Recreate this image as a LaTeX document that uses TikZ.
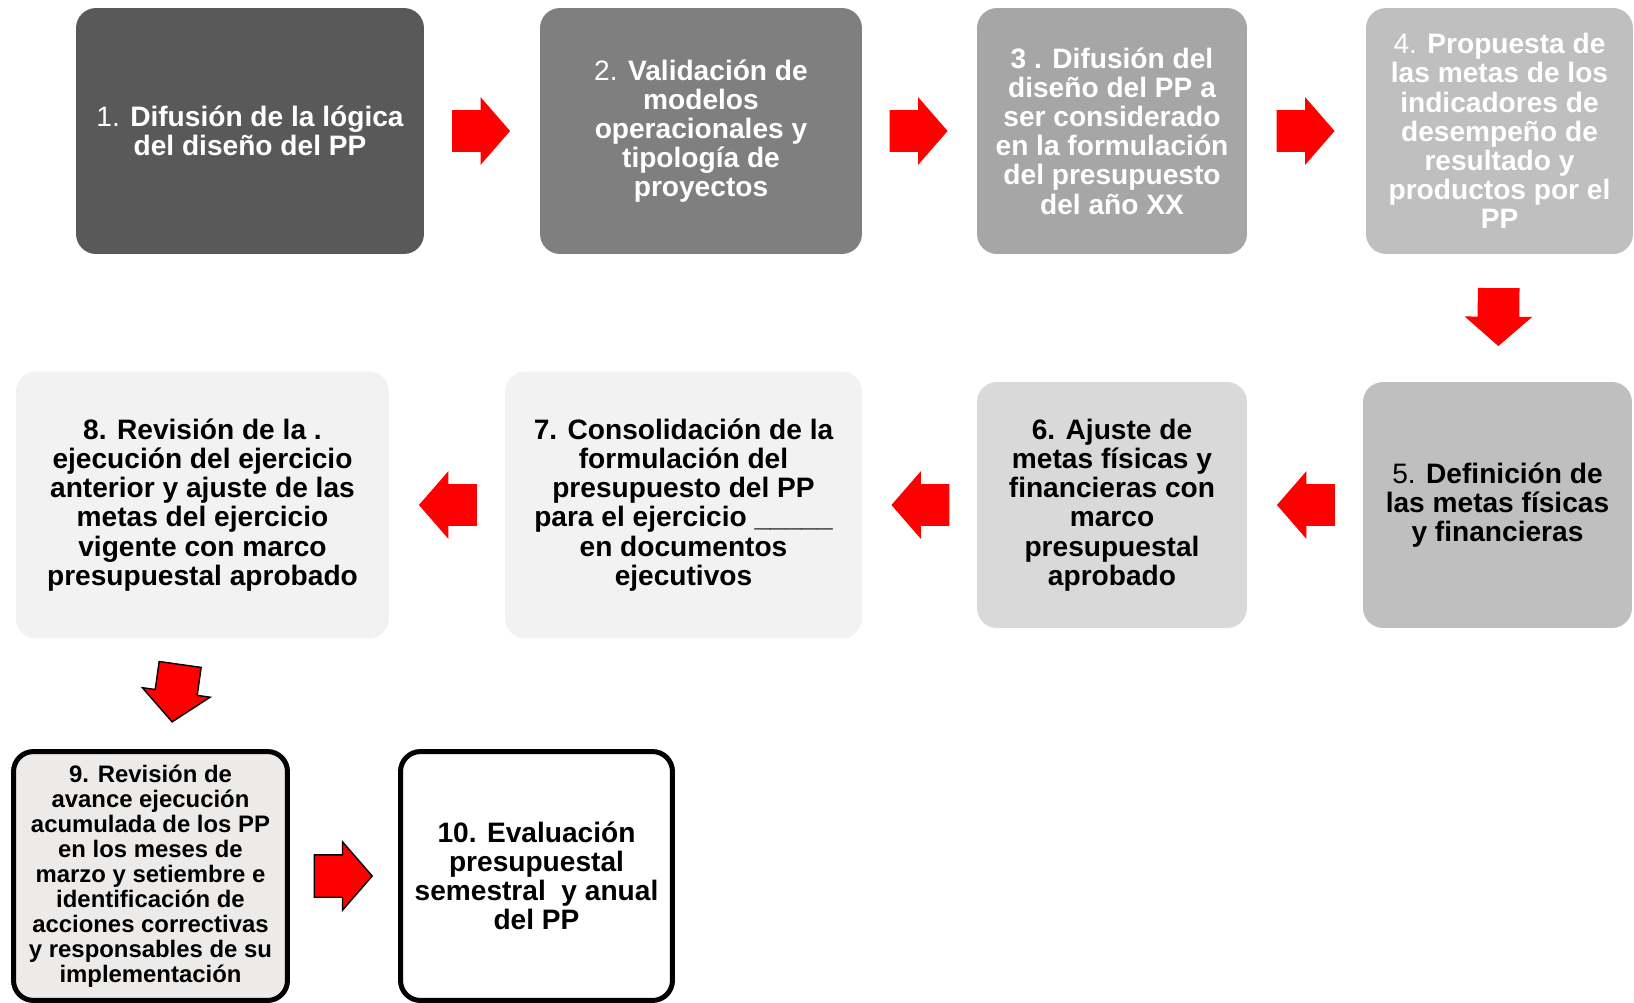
\documentclass[tikz,border=0pt]{standalone}
\usepackage{fontspec}
\setmainfont{Liberation Sans}
\usetikzlibrary{positioning,shapes.arrows}

\definecolor{grayA}{HTML}{595959}
\definecolor{grayB}{HTML}{7F7F7F}
\definecolor{grayC}{HTML}{A6A6A6}
\definecolor{grayD}{HTML}{BFBFBF}
\definecolor{grayE}{HTML}{D9D9D9}
\definecolor{grayF}{HTML}{F2F2F2}
\definecolor{grayG}{HTML}{EDEBE9}

\begin{document}
\begin{tikzpicture}[x=0.02cm, y=-0.02cm,
  box/.style={rounded corners=0.4cm, align=center, inner sep=0pt,
    font=\bfseries\fontsize{16}{16.6}\selectfont},
  framed/.style={box, draw=black, line width=0.1cm,
    font=\bfseries\fontsize{13.6}{14.2}\selectfont},
  redarrow/.style={single arrow, fill=red, inner xsep=0pt, inner ysep=0.41cm,
    minimum height=1.16cm, single arrow head extend=0.26cm,
    single arrow tip angle=98, midway, sloped, allow upside down, xshift=-0.2cm}]
  \useasboundingbox (0,0) rectangle (1634,1002);

  % First row
  \node[box, fill=grayA, text=white, minimum width=6.96cm, minimum height=4.92cm]
    (b1) at (250,131) {{\mdseries 1.} Difusión de la lógica\\del diseño del PP};
  \node[box, fill=grayB, text=white, minimum width=6.44cm, minimum height=4.92cm]
    (b2) at (701,131) {{\mdseries 2.} Validación de\\modelos\\operacionales y\\tipología de\\proyectos};
  \node[box, fill=grayC, text=white, minimum width=5.4cm, minimum height=4.92cm]
    (b3) at (1112,131) {3 . Difusión del\\diseño del PP a\\ser considerado\\en la formulación\\del presupuesto\\del año XX};
  \node[box, fill=grayD, text=white, minimum width=5.34cm, minimum height=4.92cm]
    (b4) at (1499.5,131) {{\mdseries 4.} Propuesta de\\las metas de los\\indicadores de\\desempeño de\\resultado y\\productos por el\\PP};

  % Second row, right to left
  \node[box, fill=grayD, minimum width=5.38cm, minimum height=4.92cm]
    (b5) at (1497.5,505) {{\mdseries 5.} Definición de\\las metas físicas\\y financieras};
  \node[box, fill=grayE, minimum width=5.4cm, minimum height=4.92cm]
    (b6) at (1112,505) {6. Ajuste de\\metas físicas y\\financieras con\\marco\\presupuestal\\aprobado};
  \node[box, fill=grayF, minimum width=7.14cm, minimum height=5.34cm]
    (b7) at (683.5,505) {7. Consolidación de la\\formulación del\\presupuesto del PP\\para el ejercicio \_\_\_\_\_\\en documentos\\ejecutivos};
  \node[box, fill=grayF, minimum width=7.46cm, minimum height=5.34cm]
    (b8) at (202.5,505) {8. Revisión de la .\\ejecución del ejercicio\\anterior y ajuste de las\\metas del ejercicio\\vigente con marco\\presupuestal aprobado};

  % Third row
  \node[framed, fill=grayG, minimum width=5.48cm, minimum height=4.98cm]
    (b9) at (150.5,876) {9. Revisión de\\avance ejecución\\acumulada de los PP\\en los meses de\\marzo y setiembre e\\identificación de\\acciones correctivas\\y responsables de su\\implementación};
  \node[framed, fill=white, minimum width=5.44cm, minimum height=4.98cm,
    font=\bfseries\fontsize{16}{16.6}\selectfont]
    (b10) at (536.5,876) {10. Evaluación\\presupuestal\\semestral\ \ y anual\\del PP};

  % Arrows between the steps
  \path (b1) -- (b2) node[redarrow] (a12) {};
  \path (b2) -- (b3) node[redarrow] (a23) {};
  \path (b3) -- (b4) node[redarrow] (a34) {};
  \path (b4) -- (b5) node[redarrow] (a45) {};
  \path (b5) -- (b6) node[redarrow] (a56) {};
  \path (b6) -- (b7) node[redarrow] (a67) {};
  \path (b7) -- (b8) node[redarrow] (a78) {};
  \path (b8) -- (b9) node[redarrow, draw=black, line width=0.8pt] (a89) {};
  \path (b9) -- (b10) node[redarrow, draw=black, line width=0.8pt] (a910) {};
\end{tikzpicture}
\end{document}
